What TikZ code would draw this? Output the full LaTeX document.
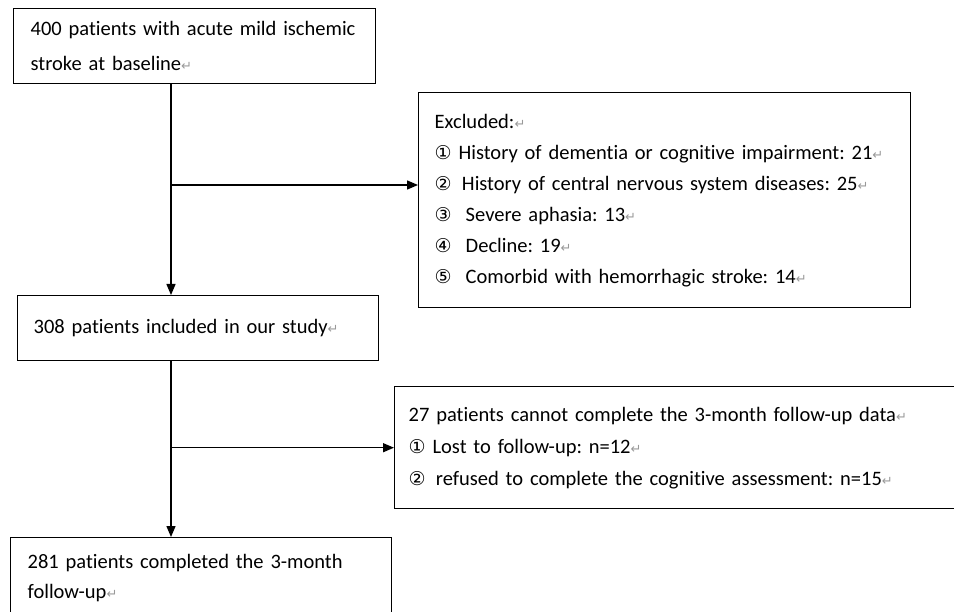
\documentclass[tikz,border=0pt]{standalone}
\usepackage{fontspec}
\setmainfont[Ligatures=NoCommon]{Carlito}
\newfontfamily\symfont{DejaVu Sans}
\usetikzlibrary{arrows.meta, positioning}

\newcommand{\pmark}{{\symfont\color{black!40}\fontsize{13}{13}\selectfont ↵}}
\newcommand{\cnum}[1]{{\symfont\fontsize{19}{19}\selectfont #1}}

\begin{document}
\frenchspacing
\begin{tikzpicture}[
  x=1pt, y=-1pt,
  box/.style={draw, line width=1.4pt, anchor=north west, align=left, inner ysep=0pt,
    font=\fontsize{20.5}{31}\selectfont\frenchspacing},
  arrow/.style={-{Triangle[length=11pt, width=9pt]}, line width=1.4pt}
]
\useasboundingbox (0,0) rectangle (954,612);

% Baseline cohort
\node[box, inner xsep=17pt, text width=328pt, minimum height=75pt,
  font=\fontsize{20.5}{35}\selectfont] (base) at (13,8)
  {400 patients with acute mild ischemic\\ stroke at baseline\pmark};

% Exclusion box
\node[box, inner xsep=16pt, text width=460pt, minimum height=215pt] (excl) at (418,92)
  {Excluded:\pmark\\
   \cnum{①} History of dementia or cognitive impairment: 21\pmark\\
   \cnum{②}\, History of central nervous system diseases: 25\pmark\\
   \cnum{③}\hspace{14pt}Severe aphasia: 13\pmark\\
   \cnum{④}\hspace{14pt}Decline: 19\pmark\\
   \cnum{⑤}\hspace{14pt}Comorbid with hemorrhagic stroke: 14\pmark};

% Included
\node[box, inner xsep=16pt, text width=329pt, minimum height=65pt] (incl) at (17,295)
  {308 patients included in our study\pmark};

% Lost to follow-up
\node[box, inner xsep=14pt, text width=572pt, minimum height=122pt,
  font=\fontsize{20.5}{32}\selectfont] (lost) at (394,386)
  {27 patients cannot complete the 3-month follow-up data\pmark\\
   \cnum{①} Lost to follow-up: n=12\pmark\\
   \cnum{②}\, refused to complete the cognitive assessment: n=15\pmark};

% Completed
\node[box, inner xsep=17pt, text width=347pt, minimum height=80pt,
  font=\fontsize{20.5}{30}\selectfont] (done) at (10,537)
  {281 patients completed the 3-month\\ follow-up\pmark};

% main flow
\coordinate (spine) at (171,0);
\coordinate (b1) at (171,185);
\draw[arrow] (base.south -| spine) -- (incl.north -| spine);
\draw[arrow] (b1) -- (b1 -| excl.west);
\draw[arrow] (incl.south -| spine) -- (done.north -| spine);
\draw[arrow] (lost.west -| spine) -- (lost.west);

\end{tikzpicture}
\end{document}
